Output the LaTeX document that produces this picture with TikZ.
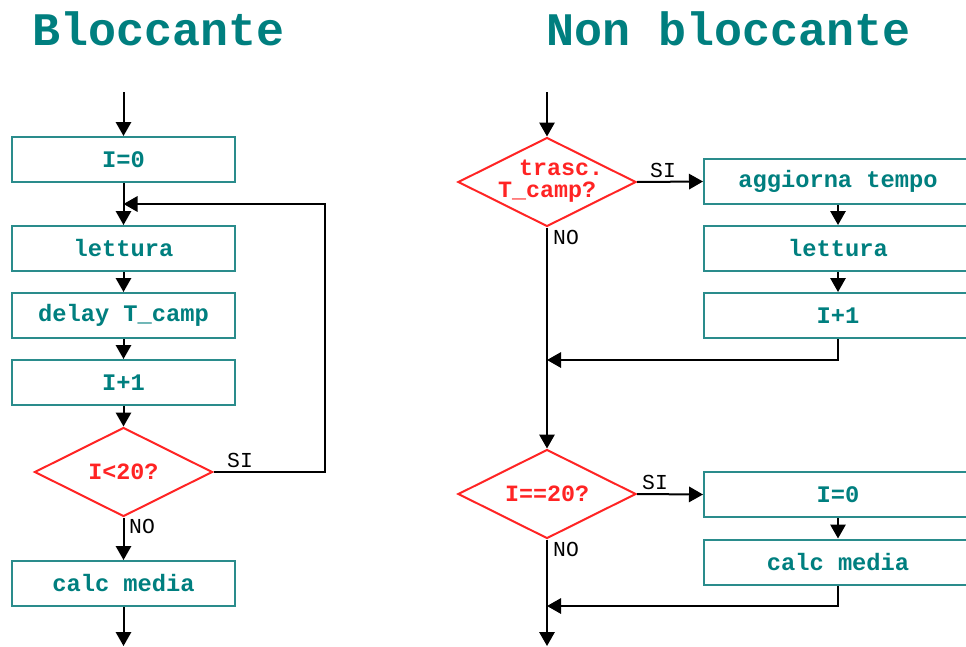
\documentclass[tikz,border=0pt]{standalone}
\usepackage{fontspec}
\setmonofont{Liberation Mono}
\usetikzlibrary{shapes.geometric,arrows.meta}
\definecolor{tealtxt}{HTML}{007F7F}
\definecolor{tealbox}{HTML}{2A8C8C}
\definecolor{redd}{HTML}{FF2424}
\begin{document}
\begin{tikzpicture}[x=0.75pt,y=-0.75pt,
  arr/.style={draw=black,line width=1.5pt,-{Triangle[width=11.5pt,length=10.5pt]}},
  boxbase/.style={draw=tealbox,line width=1.5pt,fill=white,text=tealtxt,
    font=\ttfamily\bfseries\fontsize{17.8}{20}\selectfont,minimum height={45*0.75pt},inner sep=0pt},
  lbox/.style={boxbase,minimum width={223*0.75pt}},
  rbox/.style={boxbase,minimum width={268*0.75pt}},
  dec/.style={diamond,draw=redd,line width=1.5pt,fill=white,aspect=2,
    minimum width={178*0.75pt},minimum height={89*0.75pt},inner sep=0pt},
  dtxt/.style={text=redd,font=\ttfamily\bfseries\fontsize{17.5}{17}\selectfont,align=center,inner sep=0pt},
  lbl/.style={font=\ttfamily\fontsize{16}{16}\selectfont,text=black,inner sep=0pt},
  ttl/.style={font=\ttfamily\bfseries\fontsize{35}{35}\selectfont,text=tealtxt,inner sep=0pt}
]
\useasboundingbox (0,0) rectangle (966,646);
\clip (0,0) rectangle (966,646);
\fill[white] (0,0) rectangle (966,646);

% titles
\node[ttl] (t1) at (159,29) {Bloccante};
\node[ttl] (t2) at (729,29) {Non bloccante};

% ---------- left ----------
\coordinate (ltop) at (123.5,92);
\node[lbox] (i0) at (123.5,159.5) {I=0};
\node[lbox] (lett) at (123.5,248.5) {lettura};
\node[lbox] (del) at (123.5,315.5) {delay T\_camp};
\node[lbox] (inc) at (123.5,382.5) {I+1};
\node[dec] (d1) at (123.5,472) {};
\node[dtxt] (d1t) at (d1) {I<20?};
\node[lbox] (calc) at (123.5,583.5) {calc media};
\coordinate (lbot) at (123.5,646);
\coordinate (lj) at (123.5,204);
\coordinate (lr) at (325,472);

\draw[arr] (ltop) -- (i0);
\draw[arr] (i0) -- (lett);
\draw[arr] (lett) -- (del);
\draw[arr] (del) -- (inc);
\draw[arr] (inc) -- (d1);
\draw[arr] (d1) -- (calc);
\draw[arr] (calc) -- (lbot);
\draw[arr] (d1.east) -- (lr) |- (lj);
\node[lbl] (si1) at (240,460) {SI};
\node[lbl] (no1) at (142,526) {NO};

% ---------- right ----------
\coordinate (rtop) at (547,92);
\node[dec] (d2) at (547,182) {};
\node[dtxt] (d2t) at (547,181) {\hspace*{1.2em}trasc.\\T\_camp?};
\node[rbox] (agg) at (838,181.5) {aggiorna tempo};
\node[rbox] (lett2) at (838,248.5) {lettura};
\node[rbox] (inc2) at (838,315.5) {I+1};
\coordinate (j1) at (547,360);
\node[dec] (d3) at (547,494) {};
\node[dtxt] (d3t) at (d3) {I==20?};
\node[rbox] (i02) at (838,494.5) {I=0};
\node[rbox] (calc2) at (838,562) {calc media};
\coordinate (j2) at (547,606);
\coordinate (rbot) at (547,646);

\draw[arr] (rtop) -- (d2);
\draw[arr] (d2.east) -- (agg.west);
\draw[arr] (agg) -- (lett2);
\draw[arr] (lett2) -- (inc2);
\draw[arr] (inc2.south) |- (j1);
\draw[arr] (d2.south) -- (d3.north);
\draw[arr] (d3.east) -- (i02.west);
\draw[arr] (i02) -- (calc2);
\draw[arr] (calc2.south) |- (j2);
\draw[arr] (d3.south) -- (rbot);
\node[lbl] (si2) at (663,170) {SI};
\node[lbl] (no2) at (566,237) {NO};
\node[lbl] (si3) at (655,482) {SI};
\node[lbl] (no3) at (566,549) {NO};
\end{tikzpicture}
\end{document}
